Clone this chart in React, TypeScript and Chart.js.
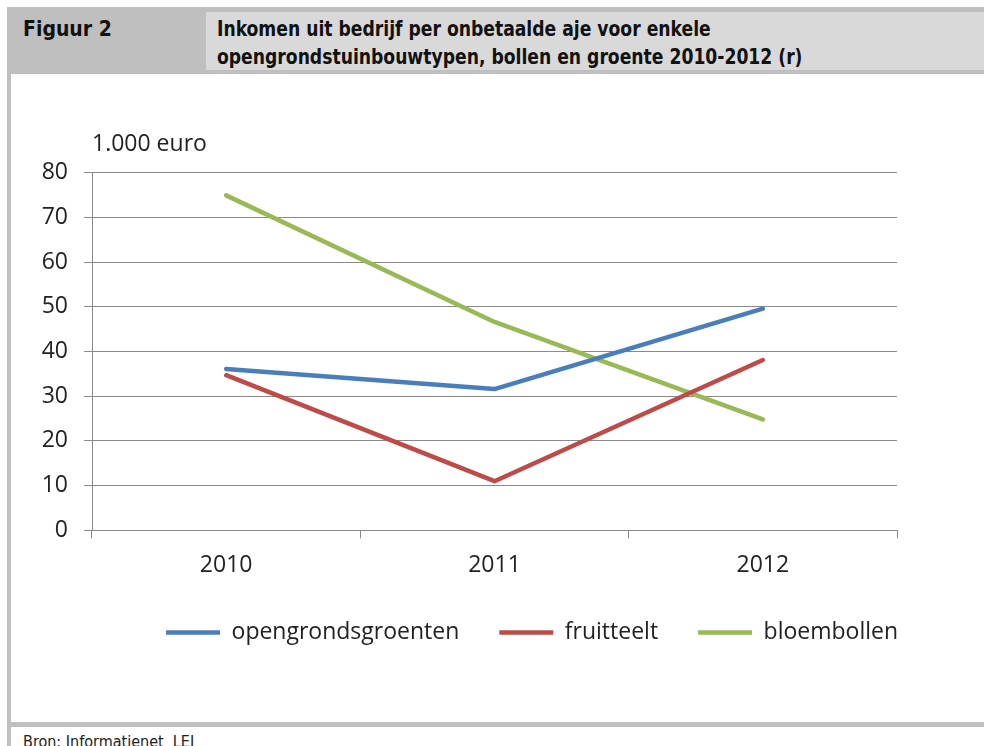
import React, { useEffect, useRef } from "react";
import { Chart, registerables } from "chart.js";

Chart.register(...registerables);

const categories = ["2010", "2011", "2012"];
const opengrondsgroenten = [36.1, 31.6, 49.6];
const fruitteelt = [34.7, 11.0, 38.1];
const bloembollen = [74.9, 46.6, 24.8];
const seriesNames = ["opengrondsgroenten", "fruitteelt", "bloembollen"];
const yMin = 0;
const yMax = 80;
const yStep = 10;
const unitLabel = "1.000 euro";
const figureLabel = "Figuur 2";
const titleLines = [
  "Inkomen uit bedrijf per onbetaalde aje voor enkele",
  "opengrondstuinbouwtypen, bollen en groente 2010-2012 (r)",
];
const sourceText = "Bron: Informatienet\u00a0 LEI";

const FONT = "'Open Sans', 'Noto Sans', sans-serif";
const HEAD_FONT = "'DejaVu Sans Condensed', 'DejaVu Sans', sans-serif";
const TEXT = "#222222";
const GRID = "#8a8a8a";

const legendShift = {
  id: "legendShift",
  afterLayout(chart: any) {
    const lg = chart.legend;
    if (!lg) return;
    const target = chart.width * 0.5355;
    const center = (lg.left + lg.right) / 2;
    const dx = target - center;
    lg.left += dx;
    lg.right += dx;
    lg.top -= 11;
    lg.bottom -= 11;
  },
};

function ChartView() {
  const ref = useRef<HTMLCanvasElement | null>(null);
  useEffect(() => {
    if (!ref.current) return;
    const mk = (label: string, data: number[], color: string) => ({
      label,
      data,
      borderColor: color,
      backgroundColor: color,
      borderWidth: 4.5,
      pointRadius: 0,
      pointHoverRadius: 0,
      borderCapStyle: "round" as const,
      borderJoinStyle: "round" as const,
      tension: 0,
      fill: false,
    });
    const chart = new Chart(ref.current, {
      type: "line",
      data: {
        labels: categories,
        datasets: [
          mk(seriesNames[0], opengrondsgroenten, "#4a7ebb"),
          mk(seriesNames[1], fruitteelt, "#be4b48"),
          mk(seriesNames[2], bloembollen, "#98b954"),
        ],
      },
      options: {
        animation: false,
        responsive: true,
        maintainAspectRatio: false,
        layout: { padding: { top: 40, left: 0, right: 87, bottom: 57 } },
        plugins: {
          tooltip: { enabled: false },
          title: {
            display: true,
            text: unitLabel,
            align: "start",
            fullSize: false,
            color: TEXT,
            font: { family: FONT, size: 23, weight: "normal", lineHeight: 1.2 },
            padding: { top: 17, bottom: 14 },
          },
          legend: {
            display: true,
            position: "bottom",
            fullSize: true,
            labels: {
              usePointStyle: true,
              pointStyle: "line",
              pointStyleWidth: 54,
              boxHeight: 23,
              padding: 40,
              color: TEXT,
              font: { family: FONT, size: 23 },
            },
          },
        },
        scales: {
          x: {
            type: "category",
            offset: true,
            grid: {
              offset: true,
              display: true,
              drawOnChartArea: false,
              drawTicks: true,
              tickLength: 8,
              color: GRID,
              lineWidth: 1,
            },
            border: { display: true, color: GRID, width: 1 },
            ticks: {
              color: TEXT,
              padding: 13,
              font: { family: FONT, size: 23, lineHeight: 1.2 },
            },
          },
          y: {
            min: yMin,
            max: yMax,
            afterFit: (scale: any) => {
              scale.width = 81;
            },
            grid: {
              display: true,
              drawTicks: true,
              tickLength: 8,
              color: GRID,
              lineWidth: 1,
            },
            border: { display: true, color: GRID, width: 1 },
            ticks: {
              stepSize: yStep,
              color: TEXT,
              padding: 16,
              font: { family: FONT, size: 23, lineHeight: 1.2 },
            },
          },
        },
      },
      plugins: [legendShift],
    });
    return () => chart.destroy();
  }, []);
  return <canvas ref={ref} />;
}

export default function App() {
  return (
    <div
      style={{
        position: "absolute",
        left: 0,
        top: 0,
        width: 984,
        height: 746,
        overflow: "hidden",
        background: "#ffffff",
      }}
    >
      <div
        style={{
          position: "absolute",
          left: 7,
          top: 7,
          width: 977,
          height: 67,
          background: "#bfbfbf",
        }}
      />
      <div
        style={{
          position: "absolute",
          left: 206,
          top: 12,
          width: 778,
          height: 58,
          background: "#d9d9d9",
        }}
      />
      <div
        style={{
          position: "absolute",
          left: 23,
          top: 15,
          fontFamily: HEAD_FONT,
          fontStretch: "condensed",
          fontWeight: "bold",
          fontSize: 21,
          lineHeight: "28px",
          color: "#111",
          whiteSpace: "nowrap",
        }}
      >
        {figureLabel}
      </div>
      <div
        style={{
          position: "absolute",
          left: 217,
          top: 15,
          fontFamily: HEAD_FONT,
          fontStretch: "condensed",
          fontWeight: "bold",
          fontSize: 21,
          lineHeight: "28px",
          color: "#111",
          whiteSpace: "nowrap",
          transform: "scaleX(0.91)",
          transformOrigin: "0 0",
        }}
      >
        {titleLines.map((t, i) => (
          <div key={i}>{t}</div>
        ))}
      </div>
      <div
        style={{
          position: "absolute",
          left: 7,
          top: 74,
          width: 4,
          height: 672,
          background: "#bfbfbf",
        }}
      />
      <div
        style={{
          position: "absolute",
          left: 7,
          top: 722,
          width: 977,
          height: 5,
          background: "#bfbfbf",
        }}
      />
      <div
        style={{
          position: "absolute",
          left: 11,
          top: 74,
          width: 973,
          height: 648,
        }}
      >
        <ChartView />
      </div>
      <div
        style={{
          position: "absolute",
          left: 23,
          top: 732,
          fontFamily: HEAD_FONT,
          fontStretch: "condensed",
          fontSize: 16,
          lineHeight: "normal",
          color: "#222",
          whiteSpace: "nowrap",
        }}
      >
        {sourceText}
      </div>
    </div>
  );
}
